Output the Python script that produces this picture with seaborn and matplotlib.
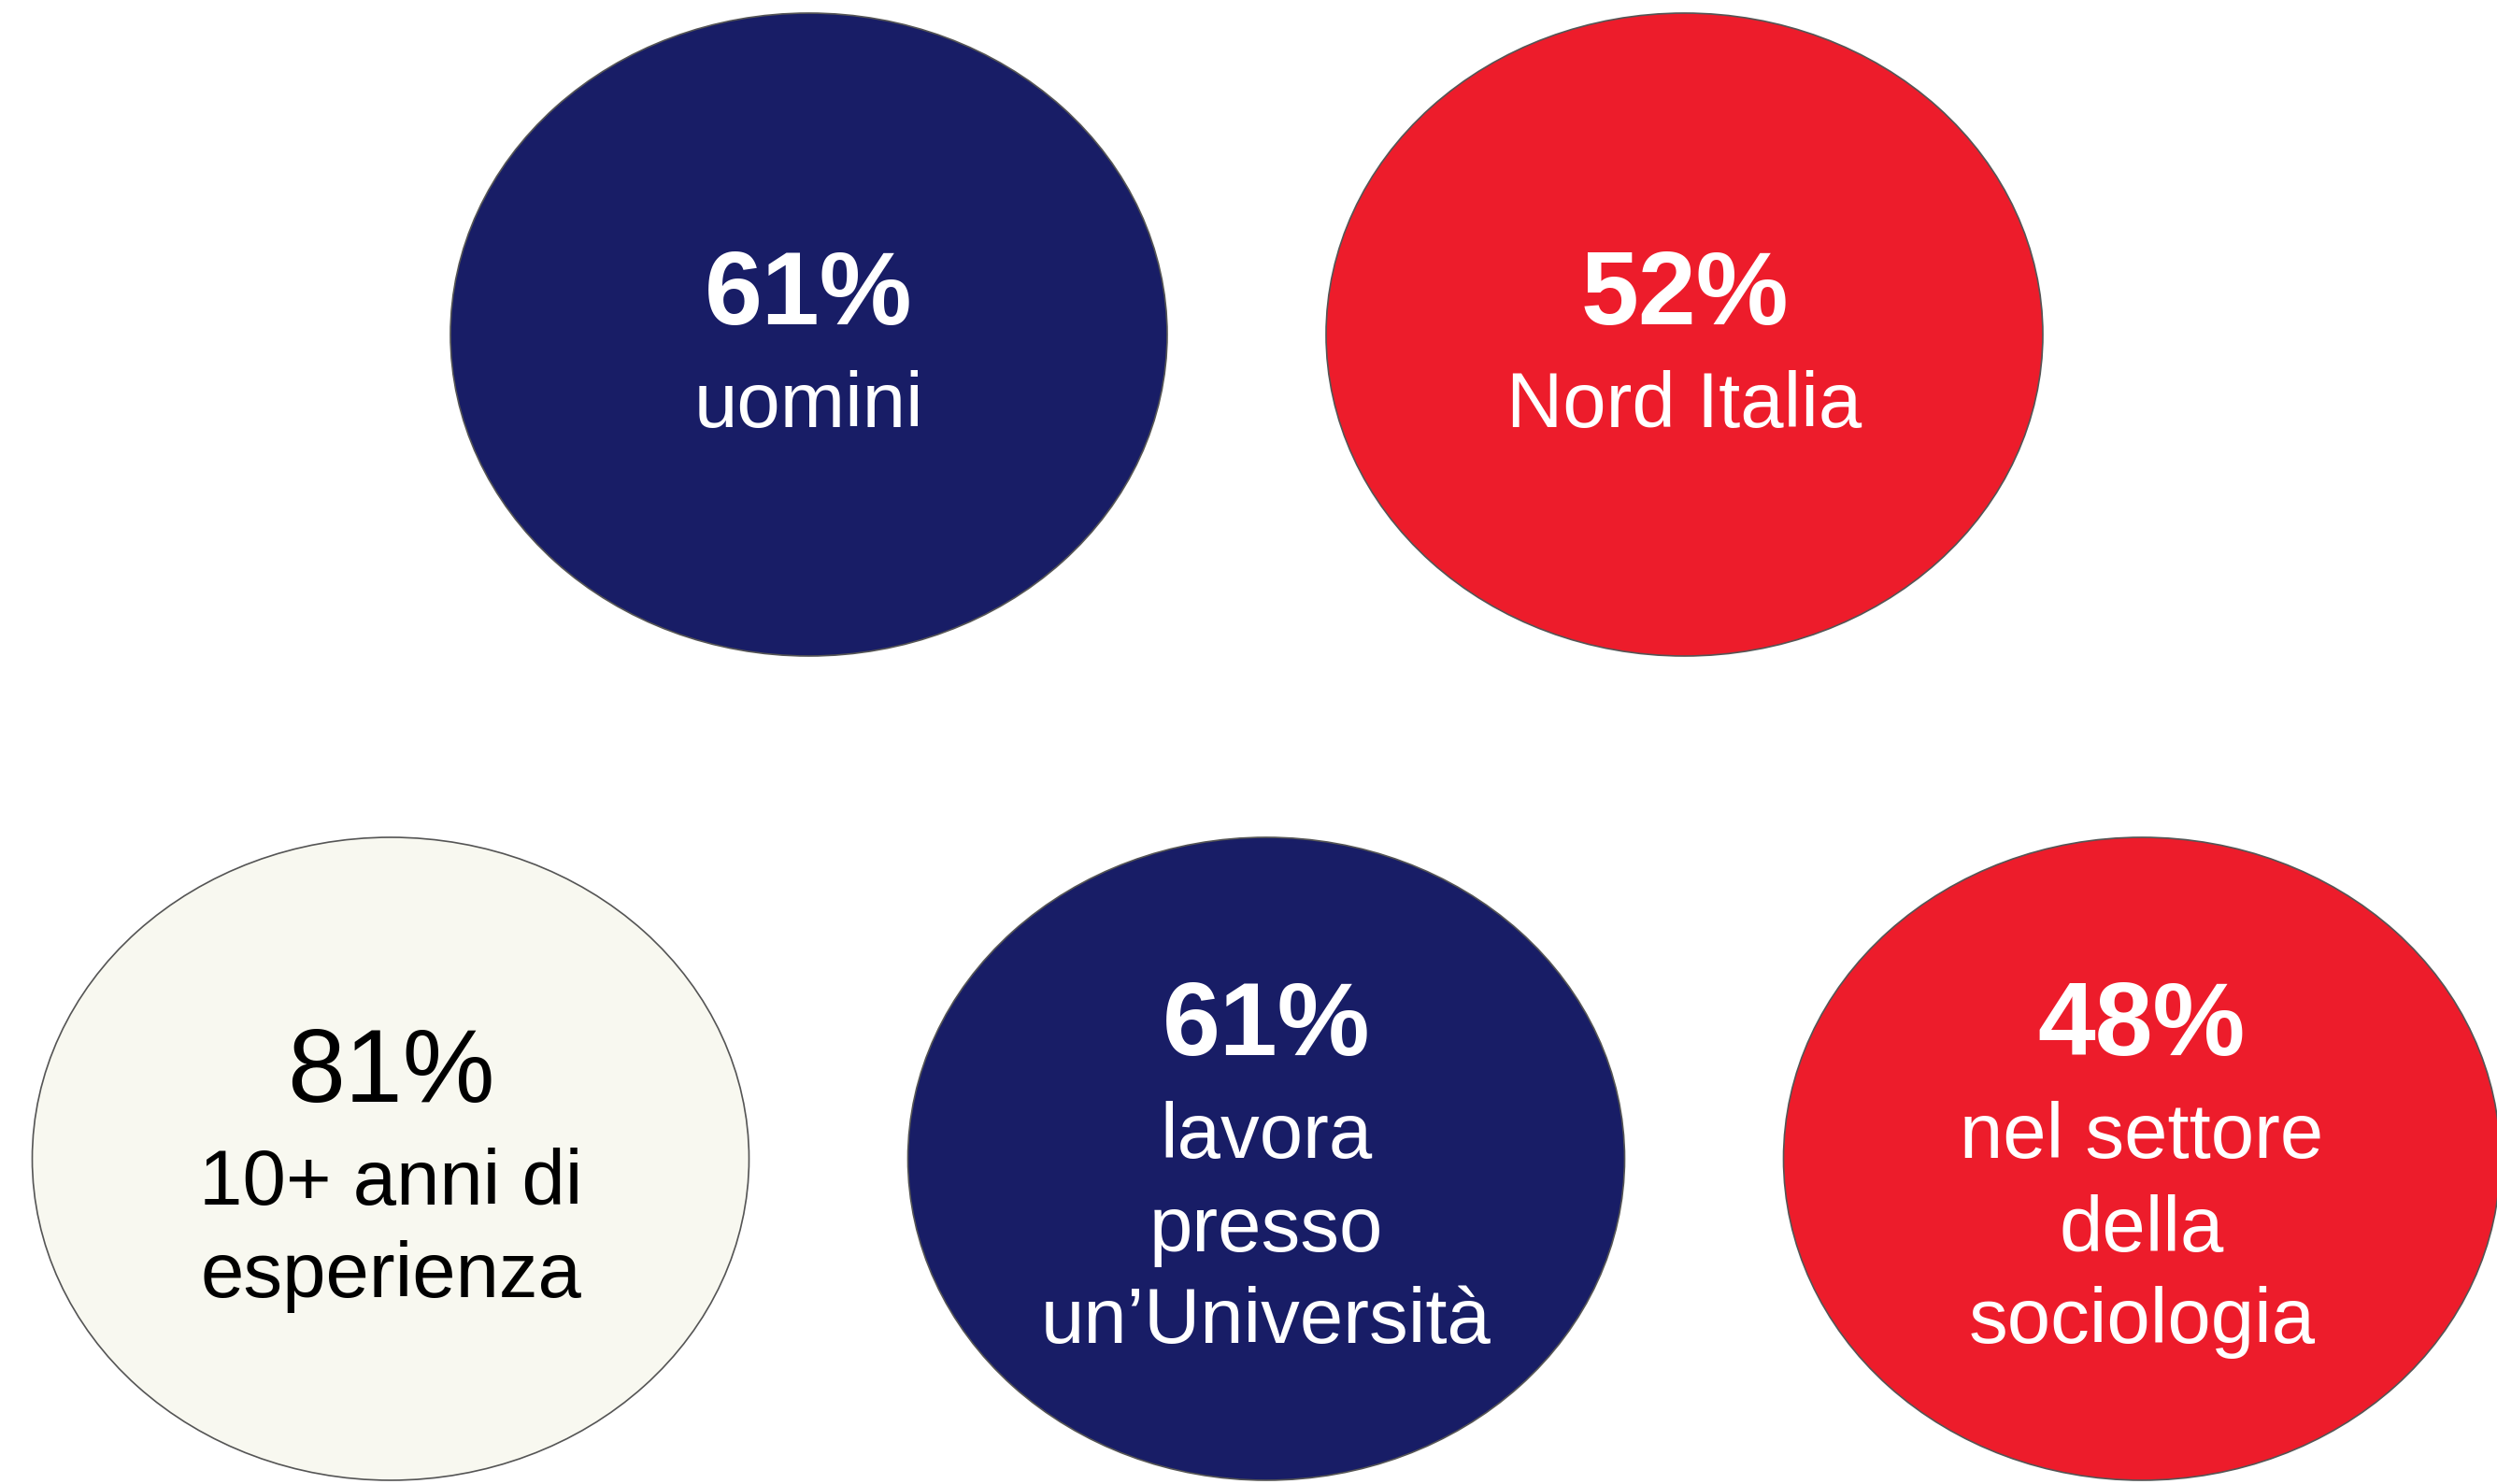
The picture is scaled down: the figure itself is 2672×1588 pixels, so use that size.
import matplotlib
matplotlib.use("Agg")
import matplotlib.pyplot as plt
from matplotlib.patches import Ellipse
import seaborn as sns

# data
percentages = ["61%", "52%", "81%", "61%", "48%"]
labels = [
    ["uomini"],
    ["Nord Italia"],
    ["10+ anni di", "esperienza"],
    ["lavora", "presso", "un\u2019Università"],
    ["nel settore", "della", "sociologia"],
]
fill_colors = ["#181D66", "#ED1C2B", "#F8F8F0", "#181D66", "#ED1C2B"]
text_colors = ["white", "white", "black", "white", "white"]
pct_weights = ["bold", "bold", "normal", "bold", "bold"]

# layout: grid slot of each bubble (half-column steps, rows)
cols = [1, 3, 0, 2, 4]
rows = [0, 0, 1, 1, 1]
row_shift = [-21, 0]

sns.set_theme(style="white")
plt.rcParams["font.family"] = ["Liberation Sans", "DejaVu Sans"]

W, H = 2672, 1588
fig = plt.figure(figsize=(W / 200, H / 200), dpi=200)
ax = fig.add_axes([0, 0, 1, 1])
ax.set_xlim(0, W)
ax.set_ylim(H, 0)
ax.axis("off")

x0, dx = 418, 468.5
y0, dy = 358, 882
ew, eh = 767, 688

for i in range(len(percentages)):
    cx = x0 + cols[i] * dx + row_shift[rows[i]]
    cy = y0 + rows[i] * dy
    ax.add_patch(Ellipse((cx, cy), ew, eh, facecolor=fill_colors[i],
                         edgecolor="#555555", linewidth=0.6))
    n = len(labels[i])
    # block of lines: percentage then labels, centred slightly below centre
    offsets = [0, 117] + [117 + 99 * k for k in range(1, n)]
    mid = (offsets[0] + offsets[-1]) / 2
    start = cy + 18 - mid
    ax.text(cx, start, percentages[i], ha="center", va="center",
            fontsize=40, fontweight=pct_weights[i], color=text_colors[i])
    for k, line in enumerate(labels[i]):
        ax.text(cx, start + offsets[k + 1], line, ha="center", va="center",
                fontsize=30, color=text_colors[i])

fig.savefig("out.png", dpi=200, facecolor="white")
